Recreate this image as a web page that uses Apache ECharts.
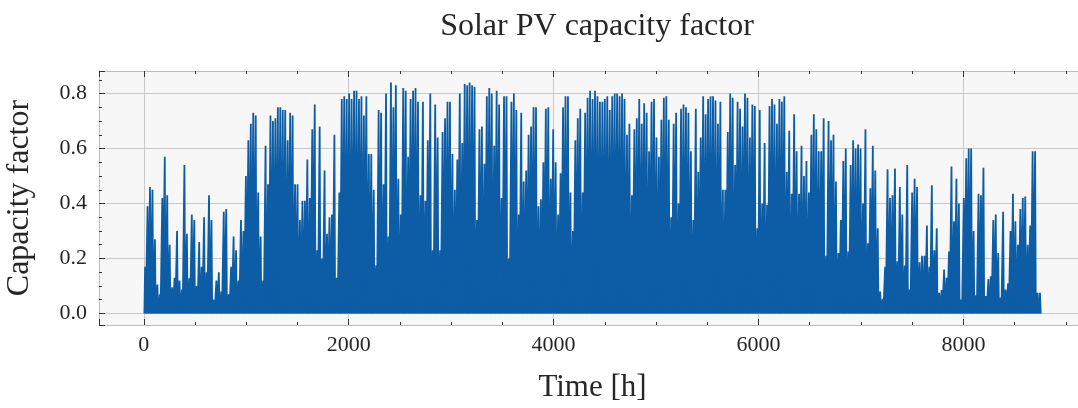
<!DOCTYPE html>
<html><head><meta charset="utf-8">
<script src="https://cdn.jsdelivr.net/npm/echarts@6/dist/echarts.min.js"></script>
<style>html,body{margin:0;padding:0;background:#fff;overflow:hidden}#c{width:1078px;height:408px}</style>
</head><body><div id="c"></div>
<script>
const titleText = 'Solar PV capacity factor';
const xName = 'Time [h]';
const yName = 'Capacity factor';
const hoursPerDay = 24;
const sunrise = 5, noon = 12, sunset = 19;
// daily peak capacity factor (one value per day)
const dailyPeak = [
 0.17,0.39,0.46,0.45,0.27,0.105,0.07,0.42,0.57,0.43,0.25,0.095,0.13,0.30,0.12,0.087,0.54,0.29,0.128,0.36,0.34,0.10,0.26,0.17,0.35,0.15,0.43,0.34,0.05,0.12,0.15,0.08,0.37,0.38,0.07,
 0.17,0.28,0.23,0.12,0.34,0.30,0.50,0.63,0.69,0.73,0.72,0.44,0.28,0.12,0.61,0.47,0.72,0.70,0.71,0.75,0.75,0.74,0.74,0.63,0.73,0.72,0.47,0.47,0.34,0.41,0.41,0.56,0.42,0.67,0.76,0.23,0.68,
 0.20,0.52,0.29,0.35,0.36,0.65,0.13,0.44,0.78,0.79,0.78,0.80,0.78,0.81,0.81,0.78,0.79,0.72,0.79,0.58,0.58,0.45,0.175,0.74,0.73,0.47,0.80,0.28,0.84,0.75,0.83,0.49,0.36,0.82,0.81,0.57,0.78,
 0.81,0.82,0.77,0.43,0.77,0.41,0.63,0.80,0.23,0.76,0.64,0.23,0.66,0.71,0.77,0.77,0.58,0.45,0.56,0.80,0.62,0.835,0.83,0.84,0.83,0.825,0.34,0.67,0.68,0.545,0.79,0.82,0.80,0.61,0.81,0.76,
 0.42,0.79,0.79,0.20,0.77,0.80,0.74,0.36,0.73,0.48,0.52,0.65,0.68,0.75,0.75,0.39,0.415,0.55,0.745,0.75,0.49,0.67,0.55,0.36,0.51,0.75,0.79,0.79,0.44,0.30,0.63,0.71,0.745,0.44,0.73,0.785,
 0.81,0.78,0.81,0.79,0.77,0.77,0.78,0.79,0.74,0.79,0.80,0.80,0.79,0.80,0.78,0.65,0.69,0.43,0.67,0.71,0.78,0.69,0.765,0.73,0.59,0.77,0.78,0.64,0.57,0.705,0.785,0.79,0.705,0.35,0.69,0.73,
 0.40,0.745,0.76,0.75,0.73,0.59,0.34,0.745,0.515,0.64,0.79,0.725,0.78,0.79,0.79,0.775,0.69,0.77,0.45,0.45,0.66,0.80,0.785,0.54,0.77,0.745,0.68,0.80,0.785,0.64,0.76,0.755,0.31,0.74,0.40,0.62,
 0.395,0.755,0.78,0.76,0.69,0.78,0.77,0.79,0.515,0.665,0.435,0.725,0.59,0.435,0.61,0.50,0.555,0.44,0.65,0.725,0.67,0.59,0.59,0.71,0.21,0.70,0.63,0.65,0.48,0.22,0.34,0.555,0.60,0.225,0.54,0.63,0.60,
 0.615,0.60,0.40,0.67,0.255,0.455,0.61,0.52,0.31,0.08,0.053,0.17,0.525,0.42,0.43,0.527,0.19,0.46,0.36,0.174,0.54,0.087,0.44,0.49,0.46,0.186,0.21,0.21,0.32,0.17,0.466,0.23,0.31,0.075,0.085,0.16,0.13,
 0.225,0.535,0.335,0.49,0.40,0.05,0.42,0.565,0.60,0.60,0.30,0.066,0.435,0.43,0.53,0.063,0.125,0.135,0.34,0.36,0.22,0.058,0.37,0.087,0.11,0.30,0.435,0.335,0.25,0.38,0.42,0.425,0.25,0.32,0.59,0.59,0.075,0.075
];
const xRange = [-438, 9197];
const yRange = [-0.042, 0.882];
const xStep = 2000, yStep = 0.2;

const seriesData = [];
dailyPeak.forEach((v, d) => {
  const t = d * hoursPerDay;
  seriesData.push([t + sunrise, 0], [t + noon, v], [t + sunset, 0]);
});

const FONT = 'Liberation Serif';
const TXT = '#262626';
const BLUE = '#0C5DA5';
const spine = { show: true, onZero: false, lineStyle: { color: '#bcbcbc', width: 1 } };
const tick = { show: true, inside: true, length: 6, lineStyle: { color: '#333', width: 1 } };
const minor = (n) => ({ show: true, splitNumber: n, length: 3, lineStyle: { color: '#333', width: 1 } });
const grid = { show: true, lineStyle: { color: '#cacaca', width: 1 } };

const chart = echarts.init(document.getElementById('c'), null, { renderer: 'canvas' });
chart.setOption({
  animation: false,
  backgroundColor: '#ffffff',
  title: {
    text: titleText, left: 592, top: 6, textAlign: 'center',
    textStyle: { fontFamily: FONT, fontSize: 32, fontWeight: 'normal', color: TXT }
  },
  grid: { left: 99, width: 987, top: 71, height: 254, show: true, backgroundColor: '#f7f7f7', borderWidth: 0,
    containLabel: false, outerBoundsMode: 'none' },
  xAxis: [
    {
      type: 'value', position: 'bottom', min: xRange[0], max: xRange[1],
      splitNumber: 5, minInterval: xStep, maxInterval: xStep,
      axisLine: spine, axisTick: tick, minorTick: minor(4), splitLine: grid,
      axisLabel: { show: true, showMinLabel: false, showMaxLabel: false, margin: 9, fontFamily: FONT, fontSize: 22, color: TXT,
        formatter: v => String(v) },
      name: xName, nameLocation: 'middle', nameGap: 47,
      nameTextStyle: { fontFamily: FONT, fontSize: 31, color: TXT }
    },
    {
      type: 'value', position: 'top', min: xRange[0], max: xRange[1],
      splitNumber: 5, minInterval: xStep, maxInterval: xStep,
      axisLine: spine, axisTick: tick, minorTick: minor(4), splitLine: { show: false },
      axisLabel: { show: false }
    }
  ],
  yAxis: [
    {
      type: 'value', position: 'left', min: yRange[0], max: yRange[1],
      splitNumber: 5, minInterval: yStep, maxInterval: yStep,
      axisLine: spine, axisTick: tick, minorTick: minor(4), splitLine: grid,
      axisLabel: { show: true, showMinLabel: false, showMaxLabel: false, margin: 12, fontFamily: FONT, fontSize: 22, color: TXT,
        formatter: v => v.toFixed(1) },
      name: yName, nameLocation: 'middle', nameGap: 63,
      nameTextStyle: { fontFamily: FONT, fontSize: 32, color: TXT }
    },
    {
      type: 'value', position: 'right', min: yRange[0], max: yRange[1],
      splitNumber: 5, minInterval: yStep, maxInterval: yStep,
      axisLine: spine, axisTick: tick, minorTick: minor(4), splitLine: { show: false },
      axisLabel: { show: false }
    }
  ],
  series: [{
    type: 'line', xAxisIndex: 0, yAxisIndex: 0,
    data: seriesData, showSymbol: false, symbol: 'none', sampling: null,
    lineStyle: { color: BLUE, width: 1.8, join: 'bevel', cap: 'butt' },
    areaStyle: { color: BLUE, opacity: 1, origin: 0 },
    itemStyle: { color: BLUE },
    z: 3
  }]
});
</script></body></html>
